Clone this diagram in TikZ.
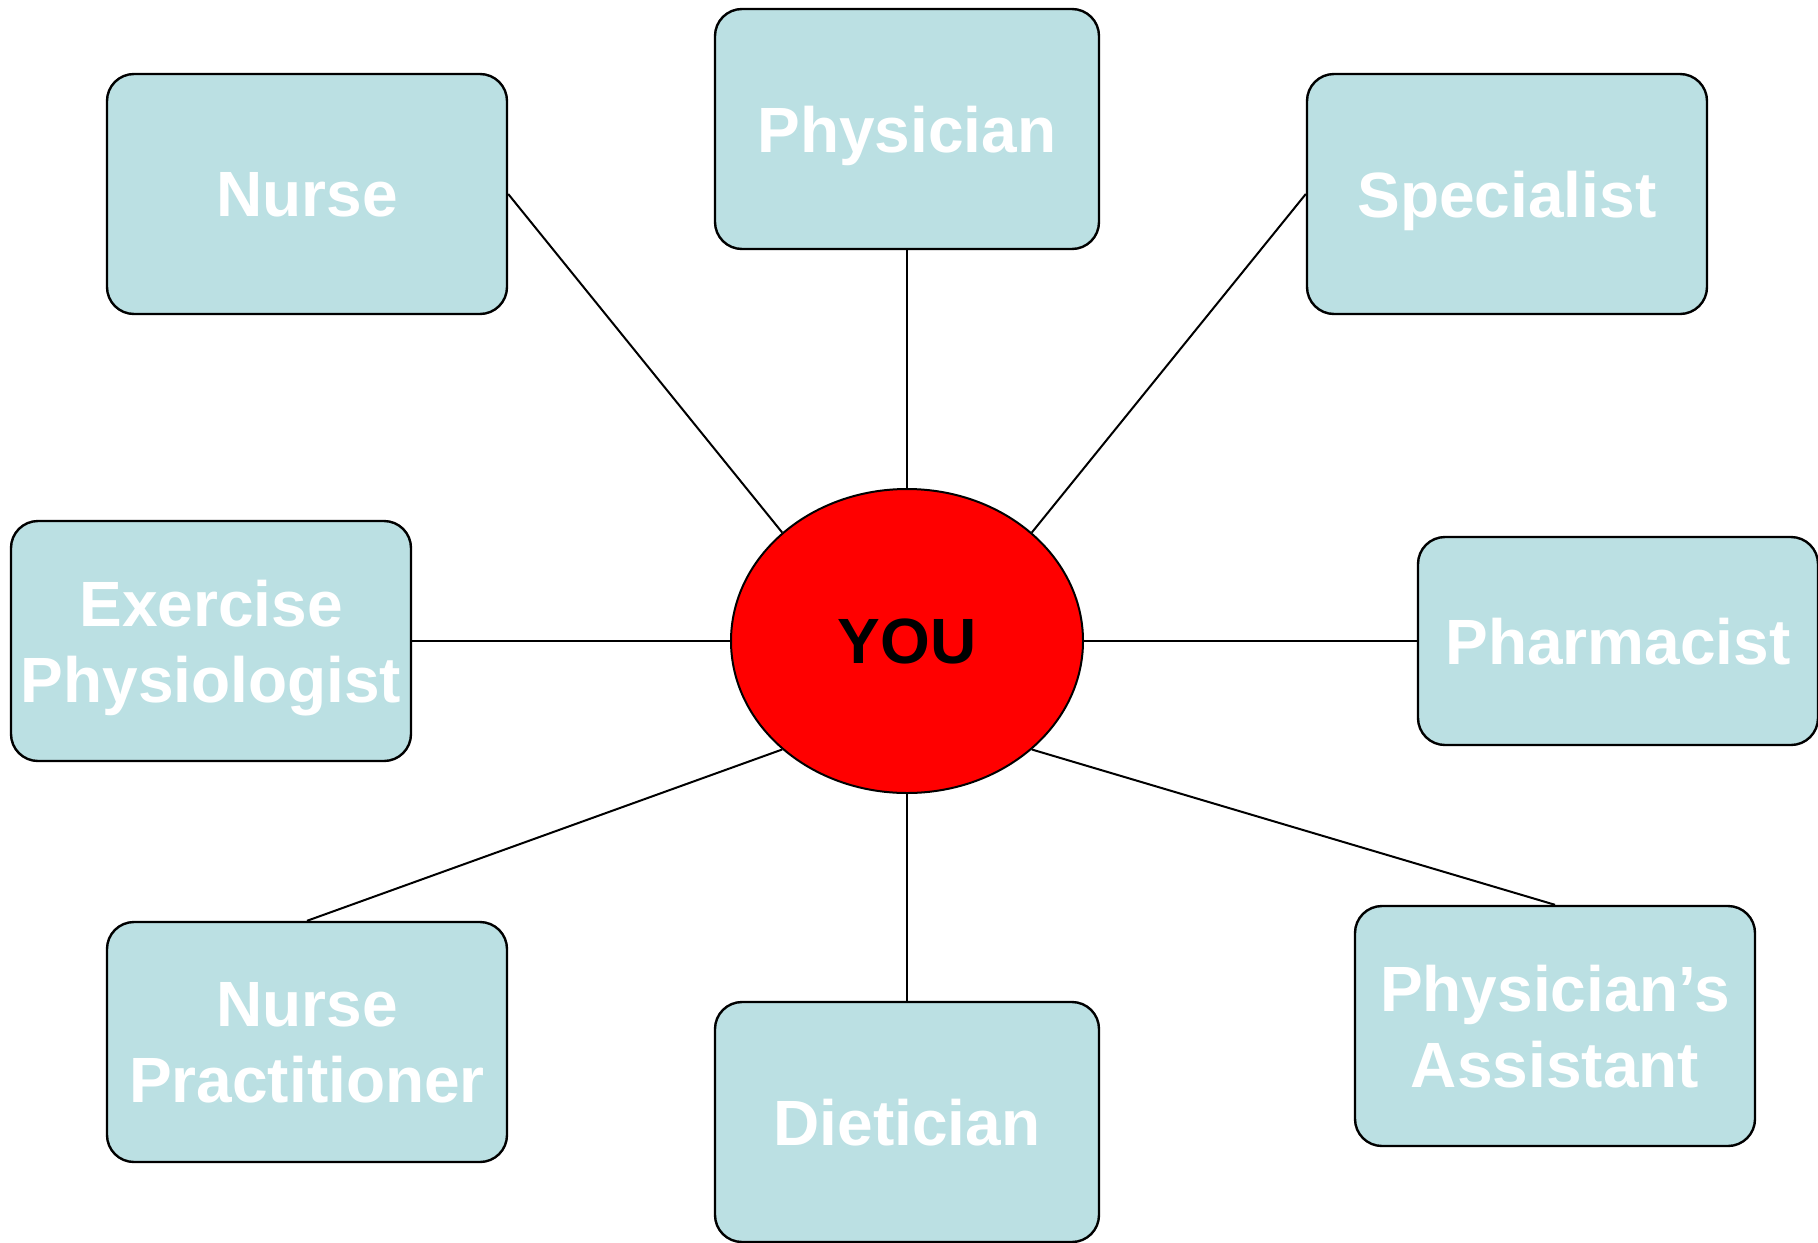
\documentclass[tikz,border=0pt]{standalone}
\usepackage{fontspec}
\setmainfont{Liberation Sans}
\usetikzlibrary{shapes.geometric}
\definecolor{rolefill}{RGB}{187,224,227}
\definecolor{youred}{RGB}{255,0,0}

\begin{document}
\begin{tikzpicture}[x=0.5pt,y=-0.5pt,
	role/.style={draw=black,line width=1.2pt,fill=rolefill,rounded corners=13.5pt,
		minimum width=200pt,minimum height=120pt,inner sep=0pt,align=center,text depth=0pt,
		text=white,font=\bfseries\fontsize{32}{38}\selectfont},
	link/.style={draw=black,line width=1pt}]
	\useasboundingbox (0,0) rectangle (1818,1242);
	%% centre
	\node[ellipse,draw=black,line width=1pt,fill=youred,minimum width=176pt,minimum height=152pt,
		inner sep=0pt,text depth=0pt,font=\bfseries\fontsize{32}{38}\selectfont] (you) at (907,641) {YOU};
	%% boxes round it
	\node[role,minimum width=192pt] (phys) at (907,129) {Physician};
	\node[role] (nurse) at (307,194) {Nurse};
	\node[role] (spec) at (1507,194) {Specialist};
	\node[role] (exer) at (211,641) {Exercise\\Physiologist};
	\node[role,minimum height=104pt] (pharm) at (1618,641) {Pharmacist};
	\node[role] (np) at (307,1042) {Nurse\\Practitioner};
	\node[role,minimum width=192pt] (diet) at (907,1122) {Dietician};
	\node[role] (pa) at (1555,1026) {Physician’s\\Assistant};
	% spokes
	\draw[link] (phys.south) -- (you.north);
	\draw[link] (diet.north) -- (you.south);
	\draw[link] (nurse.east) -- (you.139);
	\draw[link] (spec.west) -- (you.41);
	\draw[link] (exer.east) -- (you.west);
	\draw[link] (pharm.west) -- (you.east);
	\draw[link] (np.north) -- (you.221);
	\draw[link] (pa.north) -- (you.319);
\end{tikzpicture}
\end{document}
